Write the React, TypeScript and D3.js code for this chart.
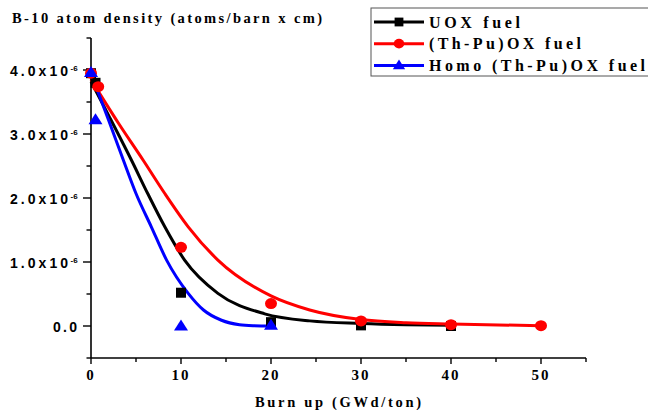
import React from "react";
import * as d3 from "d3";

// Measured points (burn-up in GWd/ton, density in units of 1e-6 atoms/barn·cm)
const uoxBurnup = [0, 0.5, 10, 20, 30, 40];
const uoxDensity = [3.95, 3.8, 0.52, 0.06, 0.01, 0.0];
const thpuBurnup = [0, 0.8, 10, 20, 30, 40, 50];
const thpuDensity = [3.95, 3.74, 1.23, 0.35, 0.08, 0.02, 0.005];
const homoBurnup = [0, 0.5, 10, 20];
const homoDensity = [3.96, 3.22, 0.0, 0.01];

// Fitted trend curves
const uoxFitX = [0, 2, 4.5, 6.3, 8.2, 10.4, 14.1, 19.3, 24.3, 30, 35, 40];
const uoxFitY = [3.82, 3.28, 2.59, 2.07, 1.55, 1.03, 0.51, 0.19, 0.08, 0.04, 0.02, 0.01];
const thpuFitX = [0, 3, 5.8, 8.2, 10.8, 14.1, 20, 24.3, 30, 35, 40, 50];
const thpuFitY = [3.85, 3.18, 2.59, 2.07, 1.55, 1.03, 0.47, 0.25, 0.1, 0.05, 0.03, 0.005];
const homoFitX = [0, 2, 3.6, 5.0, 6.7, 8.4, 10.8, 12.5, 14.5, 16.5, 18, 20];
const homoFitY = [3.95, 3.2, 2.59, 2.07, 1.55, 1.03, 0.51, 0.25, 0.09, 0.02, 0.005, 0.0];

const xTicks = [0, 10, 20, 30, 40, 50];
const xMinorTicks = [5, 15, 25, 35, 45, 55];
const yTicks = [0, 1, 2, 3, 4];
const yMinorTicks = [-0.5, 0.5, 1.5, 2.5, 3.5, 4.5];
const yTickMantissa = ["0.0", "1.0x10", "2.0x10", "3.0x10", "4.0x10"];

const seriesNames = ["UOX fuel", "(Th-Pu)OX fuel", "Homo (Th-Pu)OX fuel"];
const seriesColors = ["#000000", "#ff0000", "#0000ff"];
const legendTextWidths = [91, 152, 216];

const W = 648;
const H = 410;

const x = d3.scaleLinear().domain([0, 55]).range([91, 586]);
const y = d3.scaleLinear().domain([-0.5, 4.5]).range([358, 38]);

const serif = "'Liberation Serif', 'Times New Roman', serif";
const sans = "'Liberation Sans', Arial, sans-serif";

function zip(xs: number[], ys: number[]): [number, number][] {
  return xs.map((v, i) => [v, ys[i]]);
}

const fitLine = d3
  .line<[number, number]>()
  .x((d) => x(d[0]))
  .y((d) => y(d[1]))
  .curve(d3.curveMonotoneX);

function Marker({ kind, cx, cy, color, s = 1 }: { kind: number; cx: number; cy: number; color: string; s?: number }) {
  if (kind === 0) {
    const a = 10 * s;
    return <rect x={cx - a / 2} y={cy - a / 2} width={a} height={a} fill={color} />;
  }
  if (kind === 1) {
    return <ellipse cx={cx} cy={cy} rx={6 * s} ry={5.5 * s} fill={color} />;
  }
  const w = 14 * s;
  const h = 11 * s;
  return (
    <path
      d={`M${cx},${cy - h * 0.6} L${cx + w / 2},${cy + h * 0.4} L${cx - w / 2},${cy + h * 0.4} Z`}
      fill={color}
    />
  );
}

export default function App() {
  const fits = [
    zip(uoxFitX, uoxFitY),
    zip(thpuFitX, thpuFitY),
    zip(homoFitX, homoFitY),
  ];
  const points = [
    zip(uoxBurnup, uoxDensity),
    zip(thpuBurnup, thpuDensity),
    zip(homoBurnup, homoDensity),
  ];
  const x0 = x(0);
  const yBase = y(-0.5);

  return (
    <svg
      width={W}
      height={H}
      style={{ position: "absolute", left: 0, top: 0, background: "#fff" }}
    >
      <rect x={0} y={0} width={W} height={H} fill="#fff" />

      {/* axis title */}
      <text
        x={12}
        y={23}
        fontFamily={serif}
        fontWeight="bold"
        fontSize={14.5}
        textLength={310}
        lengthAdjust="spacing"
      >
        B-10 atom density (atoms/barn x cm)
      </text>

      {/* y axis */}
      <line x1={x0} x2={x0} y1={y(4.5)} y2={yBase} stroke="#000" strokeWidth={1.6} />
      {yTicks.map((t) => (
        <line key={"yt" + t} x1={x0 - 8} x2={x0} y1={y(t)} y2={y(t)} stroke="#000" strokeWidth={1.4} />
      ))}
      {yMinorTicks.map((t) => (
        <line key={"ym" + t} x1={x0 - 4.5} x2={x0} y1={y(t)} y2={y(t)} stroke="#000" strokeWidth={1.4} />
      ))}
      {yTicks.map((t, i) =>
        t === 0 ? (
          <text
            key={"yl" + t}
            x={77}
            y={y(t) + 6}
            textAnchor="end"
            fontFamily={sans}
            fontWeight="bold"
            fontSize={14}
            textLength={24}
            lengthAdjust="spacing"
          >
            {yTickMantissa[i]}
          </text>
        ) : (
          <g key={"yl" + t}>
            <text
              x={10}
              y={y(t) + 6}
              fontFamily={sans}
              fontWeight="bold"
              fontSize={14}
              textLength={58}
              lengthAdjust="spacing"
            >
              {yTickMantissa[i]}
            </text>
            <text x={70.5} y={y(t) + 0.5} fontFamily={sans} fontWeight="bold" fontSize={8}>
              -6
            </text>
          </g>
        )
      )}

      {/* x axis */}
      <line x1={x0} x2={x(55)} y1={yBase} y2={yBase} stroke="#000" strokeWidth={1.6} />
      {xTicks.map((t) => (
        <line key={"xt" + t} x1={x(t)} x2={x(t)} y1={yBase} y2={yBase + 6} stroke="#000" strokeWidth={1.4} />
      ))}
      {xMinorTicks.map((t) => (
        <line key={"xm" + t} x1={x(t)} x2={x(t)} y1={yBase} y2={yBase + 4} stroke="#000" strokeWidth={1.4} />
      ))}
      {xTicks.map((t) => (
        <text
          key={"xl" + t}
          x={x(t)}
          y={380}
          textAnchor="middle"
          fontFamily={serif}
          fontWeight="bold"
          fontSize={15}
          letterSpacing={2}
        >
          {String(t)}
        </text>
      ))}
      <text
        x={255}
        y={407}
        fontFamily={serif}
        fontWeight="bold"
        fontSize={14.5}
        textLength={166}
        lengthAdjust="spacing"
      >
        Burn up (GWd/ton)
      </text>

      {/* fitted curves */}
      {fits.map((f, i) => (
        <path key={"fit" + i} d={fitLine(f) || ""} fill="none" stroke={seriesColors[i]} strokeWidth={3} />
      ))}

      {/* data markers */}
      {points.map((p, i) =>
        p.map((d, j) => (
          <Marker key={`m${i}-${j}`} kind={i} cx={x(d[0])} cy={y(d[1])} color={seriesColors[i]} />
        ))
      )}

      {/* legend */}
      <rect x={371} y={8} width={300} height={68} fill="#fff" stroke="#555" strokeWidth={1} />
      {seriesNames.map((name, i) => {
        const ry = 22 + i * 21.7;
        return (
          <g key={"lg" + i}>
            <line x1={374} x2={424} y1={ry} y2={ry} stroke={seriesColors[i]} strokeWidth={3} />
            <Marker kind={i} cx={399} cy={ry} color={seriesColors[i]} s={0.88} />
            <text
              x={429}
              y={ry + 5.5}
              fontFamily={serif}
              fontWeight="bold"
              fontSize={16}
              textLength={legendTextWidths[i]}
              lengthAdjust="spacing"
            >
              {name}
            </text>
          </g>
        );
      })}
    </svg>
  );
}
